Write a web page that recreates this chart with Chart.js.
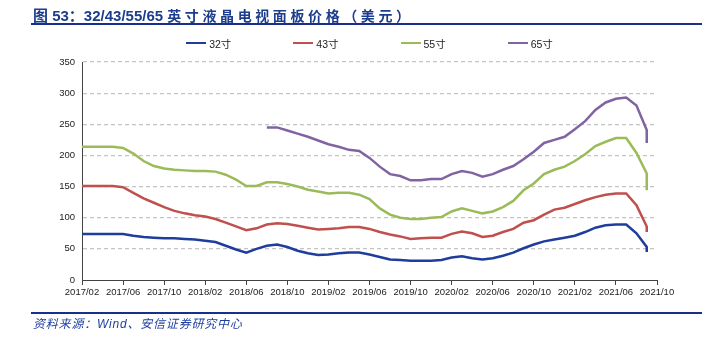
<!DOCTYPE html>
<html>
<head>
<meta charset="utf-8">
<script src="https://cdn.jsdelivr.net/npm/chart.js@4.4.1/dist/chart.umd.min.js"></script>
<style>
  html, body { margin: 0; padding: 0; background: #ffffff; }
  #wrap { position: relative; width: 706px; height: 337px; overflow: hidden; font-family: "Liberation Sans", Arial, "Noto Sans CJK SC", sans-serif; }
  #chart { position: absolute; left: 0; top: 0; }
  #title { position: absolute; left: 33px; top: 6px; line-height: 18px; font-size: 15px; font-weight: bold; color: #1c3d8c; white-space: nowrap; font-family: "Liberation Sans", "Noto Sans CJK SC", sans-serif; }
  #title .cn { font-size: 14px; letter-spacing: 3.6px; font-family: "Noto Sans CJK SC", sans-serif; }
  #titleRule { position: absolute; left: 31px; top: 23px; width: 671px; height: 2px; background: #1a2f8a; }
  #legend { position: absolute; left: 82px; width: 575px; top: 35px; height: 16px; display: flex; justify-content: center; gap: 62px; font-size: 10.5px; color: #222; }
  #legend .item { display: flex; align-items: center; white-space: nowrap; }
  #legend .swatch { width: 20px; height: 2px; margin-right: 3px; }
  #sourceRule { position: absolute; left: 31px; top: 312px; width: 671px; height: 1.5px; background: #1a2f8a; }
  #source { position: absolute; left: 33px; top: 316px; line-height: 16px; font-size: 12px; font-style: italic; letter-spacing: 0.8px; color: #1f3f9f; white-space: nowrap; font-family: "Liberation Sans", "Noto Sans CJK SC", sans-serif; }
</style>
</head>
<body>
<div id="wrap">
  <canvas id="chart" width="706" height="337"></canvas>
  <div id="title">图 53：32/43/55/65 <span class="cn">英寸液晶电视面板价格（美元）</span></div>
  <div id="titleRule"></div>
  <div id="legend"></div>
  <div id="sourceRule"></div>
  <div id="source">资料来源：Wind、安信证券研究中心</div>
</div>
<script>
// Monthly panel quotes; September 2021 carries an early and a late quote.
const periods = [
  '2017/02','2017/03','2017/04','2017/05','2017/06','2017/07','2017/08','2017/09','2017/10','2017/11','2017/12',
  '2018/01','2018/02','2018/03','2018/04','2018/05','2018/06','2018/07','2018/08','2018/09','2018/10','2018/11','2018/12',
  '2019/01','2019/02','2019/03','2019/04','2019/05','2019/06','2019/07','2019/08','2019/09','2019/10','2019/11','2019/12',
  '2020/01','2020/02','2020/03','2020/04','2020/05','2020/06','2020/07','2020/08','2020/09','2020/10','2020/11','2020/12',
  '2021/01','2021/02','2021/03','2021/04','2021/05','2021/06','2021/07','2021/08','2021/09','2021/09'
];

const size32 = [74,74,74,74,74,71,69,68,67,67,66,65,63,61,55,49,44,50,55,57,53,47,43,40,41,43,44,44,41,37,33,32,31,31,31,32,36,38,35,33,35,39,44,51,57,62,65,68,71,77,84,88,89,89,75,53,45];
const size43 = [151,151,151,151,149,140,131,124,117,111,107,104,102,98,92,86,80,83,89,91,90,87,84,81,82,83,85,85,82,77,73,70,66,67,68,68,74,78,75,69,71,77,82,92,96,105,113,116,122,128,133,137,139,139,120,86,77];
const size55 = [214,214,214,214,212,203,191,183,179,177,176,175,175,174,169,161,151,151,157,157,154,150,145,142,139,140,140,137,130,115,105,100,98,98,100,101,110,115,111,107,110,117,127,144,155,170,177,182,191,202,215,222,228,228,204,171,144];
const size65 = [null,null,null,null,null,null,null,null,null,null,null,null,null,null,null,null,null,null,
  245,245,240,235,230,224,218,214,209,207,196,182,170,167,160,160,162,162,170,175,172,166,170,177,183,194,206,220,225,230,242,255,273,285,291,293,280,241,220];

const seriesNames = ['32寸', '43寸', '55寸', '65寸'];
const seriesColors = ['#1f3d9c', '#c0504d', '#9bbb59', '#8064a2'];
const xTickLabels = ['2017/02','2017/06','2017/10','2018/02','2018/06','2018/10','2019/02','2019/06','2019/10','2020/02','2020/06','2020/10','2021/02','2021/06','2021/10'];
const yTickValues = [0, 50, 100, 150, 200, 250, 300, 350];

// months elapsed since the first period
function monthIndex(label) {
  const [y, m] = label.split('/').map(Number);
  return (y - 2017) * 12 + (m - 2);
}

function toPoints(values) {
  return periods.map((p, i) => ({ x: monthIndex(p), y: values[i] }));
}

const seriesValues = [size32, size43, size55, size65];
const datasets = seriesNames.map((name, i) => ({
  label: name,
  data: toPoints(seriesValues[i]),
  borderColor: seriesColors[i],
  backgroundColor: seriesColors[i],
  borderWidth: 2.5,
  pointRadius: 0,
  tension: 0,
  fill: false
}));

const tickFont = { family: '"Liberation Sans", Arial, sans-serif', size: 9.5 };

const chart = new Chart(document.getElementById('chart'), {
  type: 'line',
  data: { datasets },
  options: {
    responsive: false,
    animation: false,
    layout: { padding: { left: 0, right: 49, top: 62, bottom: 27 } },
    plugins: { legend: { display: false }, tooltip: { enabled: false } },
    scales: {
      x: {
        type: 'linear',
        min: monthIndex(xTickLabels[0]),
        max: monthIndex(xTickLabels[xTickLabels.length - 1]),
        afterBuildTicks: s => { s.ticks = xTickLabels.map(t => ({ value: monthIndex(t) })); },
        afterFit: s => { s.height = 30; },
        grid: { display: true, drawOnChartArea: false, drawTicks: true, tickLength: 5, color: '#444', lineWidth: 1 },
        border: { display: true, color: '#444', width: 1 },
        ticks: {
          padding: 2, font: tickFont, color: '#222', maxRotation: 0, autoSkip: false,
          callback: v => xTickLabels.find(t => monthIndex(t) === v) || ''
        }
      },
      y: {
        min: yTickValues[0],
        max: yTickValues[yTickValues.length - 1],
        afterBuildTicks: s => { s.ticks = yTickValues.map(v => ({ value: v })); },
        afterFit: s => { s.width = 82; },
        grid: {
          drawTicks: false,
          lineWidth: 1.2,
          color: c => (c.tick && c.tick.value === 0) ? 'rgba(0,0,0,0)' : '#c4c4c4'
        },
        border: { display: true, color: '#444', width: 1, dash: [4, 3] },
        ticks: { padding: 7, font: tickFont, color: '#222' }
      }
    }
  }
});

// legend row built from the chart's own datasets
const legendEl = document.getElementById('legend');
chart.data.datasets.forEach(ds => {
  const item = document.createElement('div');
  item.className = 'item';
  const sw = document.createElement('span');
  sw.className = 'swatch';
  sw.style.background = ds.borderColor;
  const tx = document.createElement('span');
  tx.textContent = ds.label;
  item.appendChild(sw);
  item.appendChild(tx);
  legendEl.appendChild(item);
});
</script>
</body>
</html>
